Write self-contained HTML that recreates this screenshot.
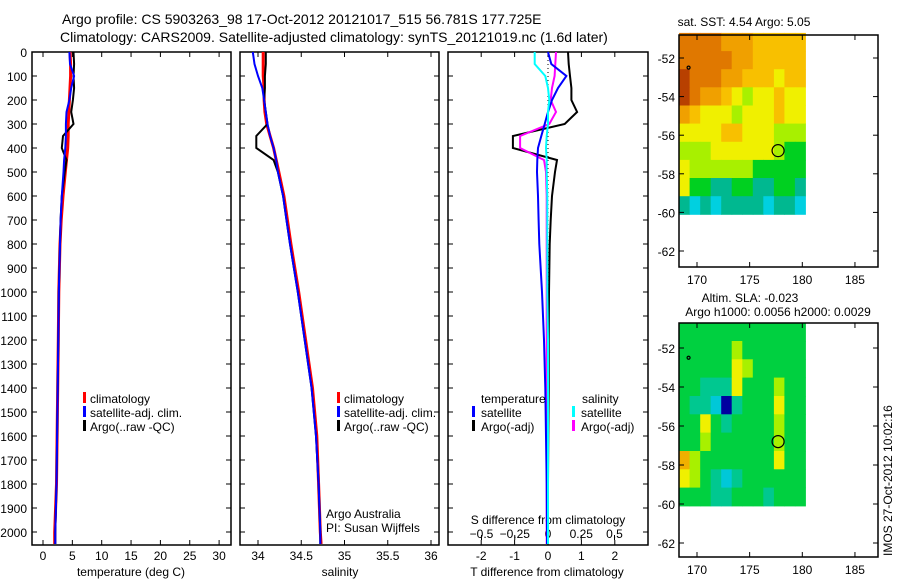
<!DOCTYPE html>
<html><head><meta charset="utf-8"><style>
body{margin:0;background:#fff;}
svg{display:block;font-family:"Liberation Sans",sans-serif;}
</style></head><body>
<svg id="c" width="900" height="580" viewBox="0 0 900 580"></svg>
<script>
const depths=[0,50,100,150,200,250,300,350,400,450,500,600,700,800,1000,1200,1400,1600,1800,2000,2050];
const tempClim=[4.6,4.7,4.7,4.6,4.5,4.4,4.3,4.3,4.2,4.0,3.8,3.4,3.1,2.9,2.7,2.6,2.5,2.4,2.3,2.0,2.0];
const tempSat=[4.5,4.6,5.3,4.8,4.5,4.0,3.9,3.9,3.8,3.6,3.5,3.2,3.0,2.9,2.7,2.6,2.5,2.4,2.3,2.1,2.1];
const tempArgo=[5.2,5.3,5.2,5.3,5.1,4.8,5.2,3.4,3.2,4.0,3.7,3.2,3.0,2.9,2.7,2.6,2.5,2.4,2.3,2.1,2.1];
const salClim=[34.06,34.06,34.06,34.07,34.07,34.08,34.10,34.14,34.18,34.21,34.24,34.30,34.34,34.38,34.47,34.55,34.63,34.68,34.70,34.72,34.73];
const salSat=[33.94,33.96,34.0,34.05,34.07,34.09,34.11,34.14,34.18,34.21,34.23,34.29,34.33,34.37,34.46,34.54,34.62,34.67,34.70,34.72,34.72];
const salArgo=[34.09,34.09,34.08,34.08,34.07,34.09,34.11,33.98,33.98,34.18,34.23,34.29,34.33,34.37,34.46,34.54,34.62,34.67,34.70,34.72,34.72];
const dTsat=[0.0,0.1,0.55,0.3,0.12,0.0,-0.1,-0.2,-0.3,-0.32,-0.33,-0.3,-0.28,-0.26,-0.18,-0.12,-0.08,-0.06,-0.04,-0.03,-0.03];
const dTargo=[0.6,0.62,0.66,0.7,0.7,0.87,0.5,-1.05,-1.05,0.27,0.21,0.12,0.08,0.05,0.03,0.02,0.02,0.01,0.0,-0.01,-0.01];
const dSsat=[-0.1,-0.1,-0.02,0.0,0.01,0.0,0.0,-0.01,-0.015,-0.01,-0.01,-0.005,-0.005,-0.005,-0.005,0.0,0.0,0.0,0.0,0.0,0.0];
const dSargo=[0.06,0.055,0.05,0.03,0.02,0.06,0.01,-0.21,-0.21,-0.03,-0.015,-0.01,-0.01,-0.01,-0.01,-0.01,-0.01,-0.01,-0.01,-0.01,-0.01];
const depthTicks=[0,100,200,300,400,500,600,700,800,900,1000,1100,1200,1300,1400,1500,1600,1700,1800,1900,2000];
const tempTicks=[0,5,10,15,20,25,30];
const salTicks=[34,34.5,35,35.5,36];
const dTTicks=[-2,-1,0,1,2];
const dSTicks=[-0.5,-0.25,0,0.25,0.5];
const sstGrid=[
[7,7,7,7,6,6,6,5,5,5,5,5],
[7,7,7,7,7,6,6,5,5,5,5,5],
[8,7,7,7,6,6,5,5,5,4,5,5],
[8,7,6,6,5,4,3,4,4,5,4,4],
[6,5,4,4,4,3,4,4,4,5,4,4],
[4,4,4,4,5,5,4,4,4,3,3,3],
[3,3,3,4,4,4,4,4,4,3,2,2],
[4,3,3,3,3,3,3,2,2,2,2,2],
[4,2,2,1,1,2,2,1,1,2,2,1],
[1,0,1,0,1,1,1,1,0,1,1,0]];
const slaGrid=[
[4,4,4,4,4,4,4,4,4,4,4,4],
[4,4,4,4,4,5,4,4,4,4,4,4],
[4,4,4,4,4,6,5,4,4,4,4,4],
[4,4,3,3,3,6,4,4,4,5,4,4],
[4,3,3,2,0,3,4,4,4,6,4,4],
[4,4,6,4,3,4,4,4,4,5,4,4],
[4,4,5,4,4,4,4,4,4,5,4,4],
[7,5,4,4,4,4,4,4,4,6,4,4],
[6,5,4,3,2,3,4,4,4,4,4,4],
[4,4,4,3,3,4,4,4,3,4,4,4]];
const latTicks=[-52,-54,-56,-58,-60,-62];
const lonTicks=[170,175,180,185];
const argoPos=[177.7,-56.8];
const dotPos=[169.2,-52.5];
const sstPal=['#00d0e0','#00b890','#00d020','#a8f000','#f0f000','#f8c000','#f0a000','#e07800','#b84000'];
const slaPal=['#0000a0','#0090ff','#00c8d8','#00c890','#00d040','#a8f000','#f0f000','#f0b000'];

const NS='http://www.w3.org/2000/svg', svg=document.getElementById('c');
function mk(t,a,p){const e=document.createElementNS(NS,t);for(const k in a)e.setAttribute(k,a[k]);(p||svg).appendChild(e);return e;}
function txt(x,y,s,anc,size,nm){const e=mk('text',{x:x,y:y,'font-size':size||12,'text-anchor':anc||'start',fill:'#000'});e.textContent=s;

return e;}
const yD=d=>52+d*0.24;
const BOT=545;

function panel(x0,x1,nm){const r=mk('rect',{x:x0,y:52,width:x1-x0,height:BOT-52,fill:'none',stroke:'#000','stroke-width':1.5});


depthTicks.forEach(d=>{mk('line',{x1:x0,x2:x0+5,y1:yD(d),y2:yD(d),stroke:'#000'});mk('line',{x1:x1,x2:x1-5,y1:yD(d),y2:yD(d),stroke:'#000'});});}
function xticks(ticks,f,lab,nm){ticks.forEach(t=>{const x=f(t);mk('line',{x1:x,x2:x,y1:BOT,y2:BOT-5,stroke:'#000'});mk('line',{x1:x,x2:x,y1:52,y2:57,stroke:'#000'});txt(x,560,String(t),'middle',12,nm);});}
function line(xs,f,col,w,nm){const pts=xs.map((v,i)=>f(v).toFixed(1)+','+yD(depths[i]).toFixed(1)).join(' ');
const p=mk('polyline',{points:pts,fill:'none',stroke:col,'stroke-width':w});

}

txt(62,24,'Argo profile: CS 5903263_98 17-Oct-2012 20121017_515 56.781S 177.725E','start',14,'title-line-1');
txt(60,42,'Climatology: CARS2009. Satellite-adjusted climatology: synTS_20121019.nc (1.6d later)','start',14,'title-line-2');

const xT=t=>43+t*5.87;
panel(32,231,'temperature-panel');
depthTicks.forEach(d=>txt(27,yD(d)+5,String(d),'end',12,'depth-tick-label'));
xticks(tempTicks,xT,'','temp-tick-label');
txt(131,576,'temperature (deg C)','middle',12,'x-axis-title-temperature');
line(tempClim,xT,'#f00',3,'temp-climatology-line');
line(tempArgo,xT,'#000',2,'temp-argo-line');
line(tempSat,xT,'#00f',2,'temp-satellite-line');
[['#f00','climatology'],['#00f','satellite-adj. clim.'],['#000','Argo(..raw -QC)']].forEach((l,i)=>{mk('rect',{x:83,y:392+i*14,width:3,height:11,fill:l[0]});txt(90,403+i*14,l[1],'start',12,'legend-entry');});

const xS=s=>258+(s-34)*86.5;
panel(240,439,'salinity-panel');
xticks(salTicks,xS,'','salinity-tick-label');
txt(340,576,'salinity','middle',12,'x-axis-title-salinity');
line(salClim,xS,'#f00',3,'sal-climatology-line');
line(salArgo,xS,'#000',2,'sal-argo-line');
line(salSat,xS,'#00f',2,'sal-satellite-line');
[['#f00','climatology'],['#00f','satellite-adj. clim.'],['#000','Argo(..raw -QC)']].forEach((l,i)=>{mk('rect',{x:337,y:392+i*14,width:3,height:11,fill:l[0]});txt(344,403+i*14,l[1],'start',12,'legend-entry');});
txt(326,518,'Argo Australia','start',12,'credit-argo-australia');
txt(326,532,'PI: Susan Wijffels','start',12,'credit-pi');

const xdT=t=>548+t*33.4, xdS=s=>548+s*133;
panel(448,648,'difference-panel');
xticks(dTTicks,xdT,'','dT-tick-label');
dSTicks.forEach(t=>{const x=xdS(t);mk('line',{x1:x,x2:x,y1:BOT-5,y2:BOT-10,stroke:'#000'});txt(x,538,String(t).replace('-','\u2212'),'middle',12,'dS-tick-label');});
mk('line',{x1:548,x2:548,y1:52,y2:BOT,stroke:'#000','stroke-dasharray':'1,3'});
txt(548,524,'S difference from climatology','middle',12,'dS-axis-title');
txt(547,576,'T difference from climatology','middle',12,'dT-axis-title');
line(dTargo,xdT,'#000',2,'dT-argo-line');
line(dSargo,xdS,'#f0f',2,'dS-argo-line');
line(dTsat,xdT,'#00f',2,'dT-satellite-line');
line(dSsat,xdS,'#0ff',2,'dS-satellite-line');
txt(481,403,'temperature','start',12,'legend-title-temperature');
txt(582,403,'salinity','start',12,'legend-title-salinity');
[['#00f','satellite',472],['#000','Argo(-adj)',472],['#0ff','satellite',572],['#f0f','Argo(-adj)',572]].forEach((l,i)=>{const r=i%2;mk('rect',{x:l[2],y:406+r*14,width:3,height:11,fill:l[0]});txt(l[2]+9,417+r*14,l[1],'start',12,'legend-entry');});

function map(top,grid,pal,nm,scale){
 const L=679,R=878,B=top+(scale.bot);
 const xL=lon=>697+(lon-170)*10.53, yL=lat=>scale.y52+(-52-lat)*scale.k;
 const g=mk('g',{});
 
 
 const lon0=168.3,lat0=-50.7,dlat=(60.1-50.7)/grid.length;
 grid.forEach((row,ri)=>row.forEach((v,ci)=>{const c=mk('rect',{x:xL(lon0+ci).toFixed(1),y:yL(lat0-ri*dlat).toFixed(1),width:(10.53+0.5).toFixed(1),height:(dlat*scale.k+0.5).toFixed(1),fill:pal[v]},g);
 
 }));
 mk('rect',{x:L,y:top,width:R-L,height:B-top,fill:'none',stroke:'#000','stroke-width':1.5});
 latTicks.forEach(l=>{const y=yL(l);mk('line',{x1:L,x2:L+5,y1:y,y2:y,stroke:'#000'});mk('line',{x1:R,x2:R-5,y1:y,y2:y,stroke:'#000'});txt(L-4,y+5,String(l),'end',12,'lat-tick-label');});
 lonTicks.forEach(l=>{const x=xL(l);mk('line',{x1:x,x2:x,y1:B,y2:B-5,stroke:'#000'});mk('line',{x1:x,x2:x,y1:top,y2:top+5,stroke:'#000'});txt(x,B+17,String(l),'middle',12,'lon-tick-label');});
 const c=mk('circle',{cx:xL(argoPos[0]),cy:yL(argoPos[1]),r:6,fill:'none',stroke:'#000','stroke-width':1.2});
 
 
 mk('circle',{cx:xL(dotPos[0]),cy:yL(dotPos[1]),r:1.5,fill:'none',stroke:'#000','stroke-width':1.2});
}
map(35,sstGrid,sstPal,'sst-map',{y52:58,k:19.3,bot:232});
txt(744,26,'sat. SST: 4.54  Argo: 5.05','middle',12,'sst-map-title');
map(323,slaGrid,slaPal,'sla-map',{y52:348,k:19.5,bot:234});
txt(750,302,'Altim. SLA: -0.023','middle',12,'sla-map-title');
txt(778,316,'Argo h1000: 0.0056 h2000: 0.0029','middle',12,'sla-map-subtitle');
const ts=txt(0,0,'IMOS 27-Oct-2012 10:02:16','start',12,'timestamp');
ts.setAttribute('transform','translate(892,556) rotate(-90)');
</script>
</body></html>
